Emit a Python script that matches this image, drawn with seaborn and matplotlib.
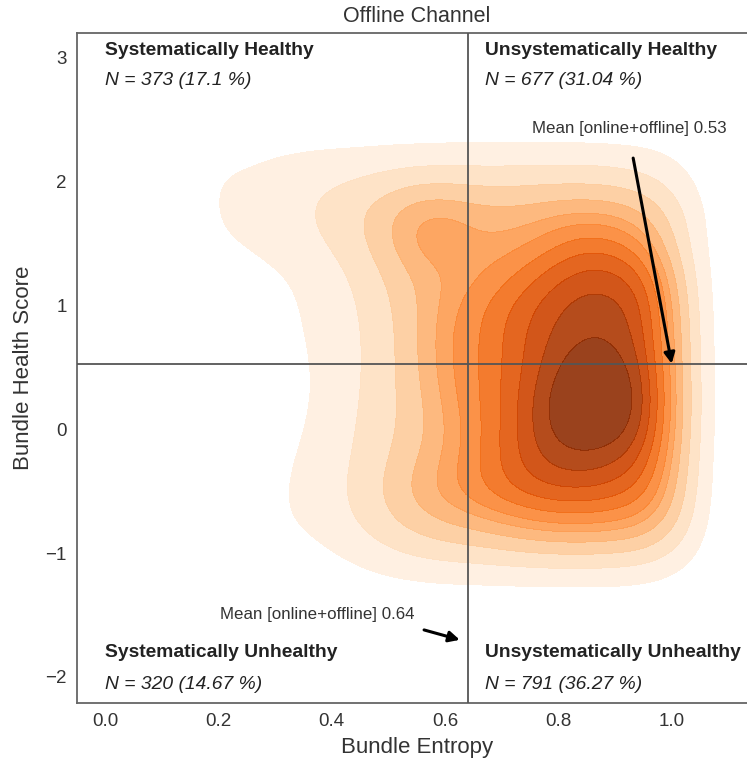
import numpy as np
import pandas as pd
import matplotlib
matplotlib.use("Agg")
import matplotlib.pyplot as plt
import seaborn as sns

# Bundle entropy / health score support grid and relative density weights
entropy_points = [0.20, 0.25, 0.30, 0.35, 0.40, 0.45, 0.50, 0.55, 0.60,
                  0.65, 0.70, 0.75, 0.80, 0.85, 0.90, 0.95, 1.00, 1.05]
health_points = [-1.25, -1.0, -0.75, -0.5, -0.25, 0.0, 0.25, 0.5,
                 0.75, 1.0, 1.25, 1.5, 1.75, 2.0, 2.25]
# one row per health_points value (bottom to top), one column per entropy point
weight_rows = [
    [0.0, 0.0, 0.0, 0.2, 0.4, 0.6, 0.8, 0.9, 1.0, 1.0, 1.0, 1.0, 1.0, 1.0, 1.0, 0.9, 0.6, 0.2],        # -1.25
    [0.0, 0.0, 0.3, 0.7, 1.1, 1.6, 2.1, 2.5, 2.7, 2.8, 3.0, 3.2, 3.3, 3.3, 3.2, 3.0, 2.2, 0.8],        # -1.00
    [0.0, 0.4, 1.0, 1.4, 1.8, 2.4, 3.3, 4.0, 4.6, 5.0, 5.6, 6.1, 6.5, 6.5, 6.3, 5.8, 4.0, 1.3],        # -0.75
    [0.0, 0.5, 1.0, 1.4, 1.9, 2.7, 3.7, 5.1, 6.1, 7.0, 7.9, 8.7, 9.0, 9.0, 8.6, 7.8, 5.0, 1.5],        # -0.50
    [0.0, 0.4, 0.9, 1.3, 1.8, 2.5, 3.3, 4.4, 5.6, 6.8, 8.2, 9.5, 10.2, 10.3, 9.9, 9.0, 5.5, 1.6],      # -0.25
    [0.0, 0.2, 0.7, 1.1, 1.7, 2.4, 3.1, 3.9, 5.4, 6.6, 8.0, 9.7, 11.2, 11.6, 11.3, 10.2, 5.9, 1.7],    #  0.00
    [0.0, 0.0, 0.6, 1.0, 1.5, 2.3, 3.1, 4.0, 5.8, 6.8, 8.0, 9.5, 11.4, 12.0, 11.9, 10.6, 6.1, 1.8],    #  0.25
    [0.0, 0.1, 0.7, 1.0, 1.5, 2.2, 3.0, 4.3, 6.1, 6.8, 8.0, 9.1, 10.6, 11.5, 11.3, 10.1, 5.9, 1.7],    #  0.50
    [0.0, 0.2, 0.8, 1.1, 1.6, 2.2, 3.0, 4.3, 6.2, 6.8, 8.0, 9.1, 10.0, 10.5, 10.4, 9.6, 5.8, 1.7],     #  0.75
    [0.0, 0.3, 0.9, 1.2, 1.6, 2.3, 3.2, 4.3, 5.8, 6.7, 7.8, 8.8, 9.8, 10.2, 10.1, 9.5, 5.5, 1.6],      #  1.00
    [0.2, 0.7, 1.0, 1.3, 1.8, 2.6, 3.5, 4.6, 5.3, 5.7, 6.6, 7.7, 8.8, 9.5, 9.3, 8.6, 4.8, 1.5],        #  1.25
    [1.0, 1.3, 1.6, 1.9, 2.4, 3.1, 4.3, 6.1, 6.4, 5.6, 5.5, 6.0, 7.0, 7.8, 7.5, 6.3, 3.6, 1.3],        #  1.50
    [1.6, 1.6, 1.8, 2.2, 2.7, 3.4, 4.4, 5.7, 5.9, 5.2, 5.0, 5.0, 5.4, 5.5, 5.3, 4.6, 3.2, 1.3],        #  1.75
    [1.5, 1.5, 1.7, 2.0, 2.2, 2.4, 2.7, 3.0, 3.1, 3.0, 3.0, 3.1, 3.1, 3.1, 3.0, 2.7, 2.0, 0.9],        #  2.00
    [0.5, 0.8, 1.1, 1.2, 1.3, 1.3, 1.4, 1.4, 1.5, 1.5, 1.5, 1.5, 1.5, 1.5, 1.4, 1.3, 1.0, 0.4],        #  2.25
]

mean_entropy = 0.64
mean_health = 0.53

quadrant_names = ["Systematically Healthy", "Unsystematically Healthy",
                  "Systematically Unhealthy", "Unsystematically Unhealthy"]
quadrant_counts = [373, 677, 320, 791]
quadrant_shares = ["17.1", "31.04", "14.67", "36.27"]

xx, yy = np.meshgrid(entropy_points, health_points)
df = pd.DataFrame({
    "entropy": xx.ravel(),
    "health": yy.ravel(),
    "w": np.array(weight_rows).ravel(),
})
df = df[df["w"] > 0]

sns.set_theme(style="white")
plt.rcParams["font.family"] = ["Liberation Sans", "DejaVu Sans"]
text_color = "#333333"

fig = plt.figure(figsize=(7.47, 7.62), dpi=100)
ax = fig.add_axes([76.7 / 747, 59 / 762, 680 / 747, 670 / 762])

sns.kdeplot(data=df, x="entropy", y="health", weights="w", fill=True,
            cmap="Oranges", levels=12, thresh=0.05, bw_method=0.2,
            alpha=0.9, ax=ax)

ax.axvline(mean_entropy, color="#555555", lw=1.3, zorder=3)
ax.axhline(mean_health, color="#555555", lw=1.3, zorder=3)

ax.set_xlim(-0.05, 1.15)
ax.set_ylim(-2.21, 3.2)
ax.set_xticks([0.0, 0.2, 0.4, 0.6, 0.8, 1.0])
ax.set_yticks([-2, -1, 0, 1, 2, 3])
ax.set_yticklabels(["\u22122", "\u22121", "0", "1", "2", "3"])
ax.tick_params(labelsize=13.5, colors=text_color, length=0, pad=7)
ax.set_xlabel("Bundle Entropy", fontsize=16, color=text_color, labelpad=5)
ax.set_ylabel("Bundle Health Score", fontsize=16, color=text_color, labelpad=8)
ax.set_title("Offline Channel", fontsize=15.5, color=text_color, pad=8)
for s in ax.spines.values():
    s.set_color("#666666")
    s.set_linewidth(1.3)

# Quadrant labels
label_pos = [(0.0, 3.06, 2.82), (0.67, 3.06, 2.82),
             (0.0, -1.80, -2.06), (0.67, -1.80, -2.06)]
for name, n, share, (lx, ty, ny) in zip(quadrant_names, quadrant_counts,
                                          quadrant_shares, label_pos):
    ax.text(lx, ty, name, fontsize=13.9, fontweight="bold", color="#222222",
            va="center", ha="left", zorder=5)
    ax.text(lx, ny, f"N = {n} ({share} %)", fontsize=13.9, style="italic",
            color="#222222", va="center", ha="left", zorder=5)

# Mean markers
arrow = dict(arrowstyle="-|>", color="black", lw=2.2, mutation_scale=16,
             shrinkA=0, shrinkB=0)
ax.annotate("", xy=(1.0, mean_health), xytext=(0.932, 2.19),
            arrowprops=arrow, zorder=6)
ax.text(0.925, 2.43, f"Mean [online+offline] {mean_health}", fontsize=12.2,
        color=text_color, ha="center", va="center", zorder=6)
ax.annotate("", xy=(mean_entropy - 0.014, -1.70), xytext=(0.563, -1.62),
            arrowprops=arrow, zorder=6)
ax.text(0.374, -1.494, f"Mean [online+offline] {mean_entropy}", fontsize=12.2,
        color=text_color, ha="center", va="center", zorder=6)

fig.savefig("out.png", dpi=100)
